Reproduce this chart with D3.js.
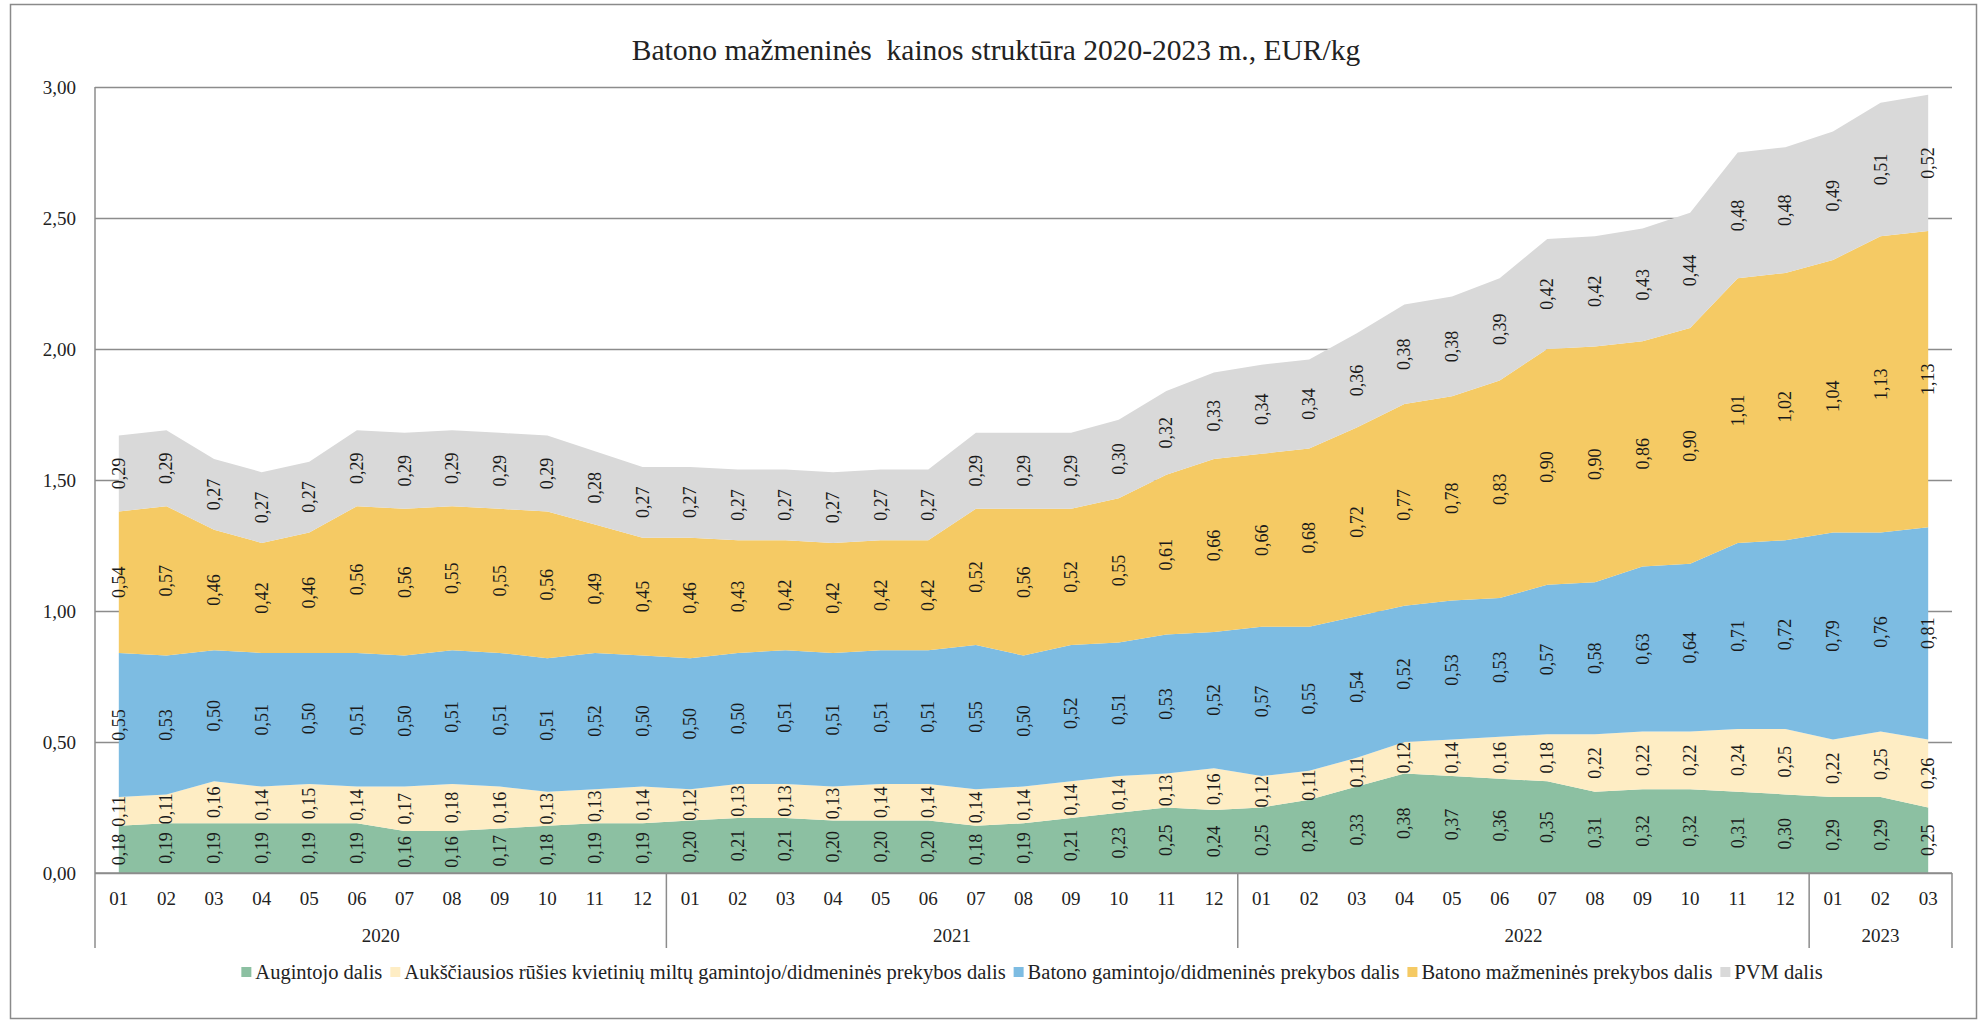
<!DOCTYPE html>
<html>
<head>
<meta charset="utf-8">
<script src="https://cdn.jsdelivr.net/npm/d3@7"></script>
<style>
  body { margin: 0; background: #fff; }
  svg { display: block; font-family: "Liberation Serif", "Times New Roman", serif; }
</style>
</head>
<body>
<div id="vis"></div>
<script>

// periods (year-month)
var periods = ['2020-01','2020-02','2020-03','2020-04','2020-05','2020-06','2020-07','2020-08','2020-09','2020-10','2020-11','2020-12',
	'2021-01','2021-02','2021-03','2021-04','2021-05','2021-06','2021-07','2021-08','2021-09','2021-10','2021-11','2021-12',
	'2022-01','2022-02','2022-03','2022-04','2022-05','2022-06','2022-07','2022-08','2022-09','2022-10','2022-11','2022-12',
	'2023-01','2023-02','2023-03'];
var years = ['2020', '2021', '2022', '2023'];

var augintojo = [0.18,0.19,0.19,0.19,0.19,0.19,0.16,0.16,0.17,0.18,0.19,0.19,
	0.20,0.21,0.21,0.20,0.20,0.20,0.18,0.19,0.21,0.23,0.25,0.24,
	0.25,0.28,0.33,0.38,0.37,0.36,0.35,0.31,0.32,0.32,0.31,0.30,
	0.29,0.29,0.25];
var miltu = [0.11,0.11,0.16,0.14,0.15,0.14,0.17,0.18,0.16,0.13,0.13,0.14,
	0.12,0.13,0.13,0.13,0.14,0.14,0.14,0.14,0.14,0.14,0.13,0.16,
	0.12,0.11,0.11,0.12,0.14,0.16,0.18,0.22,0.22,0.22,0.24,0.25,
	0.22,0.25,0.26];
var gamintojo = [0.55,0.53,0.50,0.51,0.50,0.51,0.50,0.51,0.51,0.51,0.52,0.50,
	0.50,0.50,0.51,0.51,0.51,0.51,0.55,0.50,0.52,0.51,0.53,0.52,
	0.57,0.55,0.54,0.52,0.53,0.53,0.57,0.58,0.63,0.64,0.71,0.72,
	0.79,0.76,0.81];
var mazmenine = [0.54,0.57,0.46,0.42,0.46,0.56,0.56,0.55,0.55,0.56,0.49,0.45,
	0.46,0.43,0.42,0.42,0.42,0.42,0.52,0.56,0.52,0.55,0.61,0.66,
	0.66,0.68,0.72,0.77,0.78,0.83,0.90,0.90,0.86,0.90,1.01,1.02,
	1.04,1.13,1.13];
var pvm = [0.29,0.29,0.27,0.27,0.27,0.29,0.29,0.29,0.29,0.29,0.28,0.27,
	0.27,0.27,0.27,0.27,0.27,0.27,0.29,0.29,0.29,0.30,0.32,0.33,
	0.34,0.34,0.36,0.38,0.38,0.39,0.42,0.42,0.43,0.44,0.48,0.48,
	0.49,0.51,0.52];

var seriesKeys = ['augintojo', 'miltu', 'gamintojo', 'mazmenine', 'pvm'];
var seriesNames = ['Augintojo dalis',
	'Aukščiausios rūšies kvietinių miltų gamintojo/didmeninės prekybos dalis',
	'Batono gamintojo/didmeninės prekybos dalis',
	'Batono mažmeninės prekybos dalis',
	'PVM dalis'];
var yTicks = [0, 0.5, 1, 1.5, 2, 2.5, 3];

var title = 'Batono mažmeninės  kainos struktūra 2020-2023 m., EUR/kg';

var colors = ['#8cc0a2', '#feedc4', '#7dbce2', '#f5ca64', '#d9d9d9'];

var W = 1981, H = 1024;
var plotLeft = 95, plotRight = 1952, plotTop = 87, plotBottom = 873;

var locale = d3.formatLocale({decimal: ',', thousands: '\u00a0', grouping: [3], currency: ['', ' €']});
var fmt = locale.format('.2f');

var rows = periods.map(function (p, i) {
	return {period: p, augintojo: augintojo[i], miltu: miltu[i], gamintojo: gamintojo[i], mazmenine: mazmenine[i], pvm: pvm[i]};
});

var svg = d3.select('#vis').append('svg')
	.attr('width', W)
	.attr('height', H);

svg.append('rect')
	.attr('x', 10.5).attr('y', 4.5)
	.attr('width', 1966).attr('height', 1014)
	.attr('fill', '#fff')
	.attr('stroke', '#8a8a8a')
	.attr('stroke-width', 1.5);

var x = d3.scaleBand().domain(periods).range([plotLeft, plotRight]).padding(0);
var cx = function (p) { return x(p) + x.bandwidth() / 2; };
var y = d3.scaleLinear().domain([0, 3]).range([plotBottom, plotTop]);

// gridlines
svg.append('g')
	.attr('class', 'grid')
	.attr('transform', 'translate(' + plotLeft + ',0)')
	.call(d3.axisLeft(y).tickValues(yTicks).tickSize(-(plotRight - plotLeft)).tickFormat(''))
	.call(function (g) { g.select('.domain').remove(); })
	.selectAll('line')
	.attr('stroke', '#8c8c8c')
	.attr('stroke-width', 1.5);

var stack = d3.stack().keys(seriesKeys);
var layers = stack(rows);

var area = d3.area()
	.x(function (d) { return cx(d.data.period); })
	.y0(function (d) { return y(d[0]); })
	.y1(function (d) { return y(d[1]); });

svg.append('g').selectAll('path')
	.data(layers)
	.enter().append('path')
	.attr('d', area)
	.attr('fill', function (d, i) { return colors[i]; });

// y axis labels
svg.append('g')
	.attr('transform', 'translate(' + plotLeft + ',0)')
	.call(d3.axisLeft(y).tickValues(yTicks).tickSize(0).tickPadding(19).tickFormat(fmt))
	.call(function (g) { g.select('.domain').remove(); })
	.selectAll('text')
	.attr('font-family', '"Liberation Serif", serif')
	.attr('font-size', 19)
	.attr('fill', '#222');

// axis lines
svg.append('line')
	.attr('x1', plotLeft).attr('x2', plotLeft)
	.attr('y1', plotTop).attr('y2', 948)
	.attr('stroke', '#8c8c8c').attr('stroke-width', 1.5);
svg.append('line')
	.attr('x1', plotLeft).attr('x2', plotRight)
	.attr('y1', plotBottom).attr('y2', plotBottom)
	.attr('stroke', '#8c8c8c').attr('stroke-width', 1.5);

// month labels
svg.append('g').selectAll('text')
	.data(periods)
	.enter().append('text')
	.attr('x', cx)
	.attr('y', 898)
	.attr('text-anchor', 'middle')
	.attr('dominant-baseline', 'central')
	.attr('font-size', 19)
	.attr('fill', '#222')
	.text(function (p) { return p.split('-')[1]; });

// year labels and separators
years.forEach(function (yr) {
	var ps = periods.filter(function (p) { return p.indexOf(yr) === 0; });
	var x0 = x(ps[0]), x1 = x(ps[ps.length - 1]) + x.bandwidth();
	svg.append('text')
		.attr('x', (x0 + x1) / 2)
		.attr('y', 935)
		.attr('text-anchor', 'middle')
		.attr('dominant-baseline', 'central')
		.attr('font-size', 19)
		.attr('fill', '#222')
		.text(yr);
	svg.append('line')
		.attr('x1', x1).attr('x2', x1)
		.attr('y1', plotBottom).attr('y2', 948)
		.attr('stroke', '#8c8c8c').attr('stroke-width', 1.5);
});

// data labels
layers.forEach(function (layer) {
	svg.append('g').selectAll('text')
		.data(layer)
		.enter().append('text')
		.attr('transform', function (d) {
			return 'translate(' + cx(d.data.period) + ',' + y((d[0] + d[1]) / 2) + ') rotate(-90)';
		})
		.attr('text-anchor', 'middle')
		.attr('dominant-baseline', 'central')
		.attr('font-size', 18)
		.attr('fill', '#1a1a1a')
		.text(function (d) { return fmt(d[1] - d[0]); });
});

// title
svg.append('text')
	.attr('x', 996)
	.attr('y', 50)
	.attr('text-anchor', 'middle')
	.attr('dominant-baseline', 'central')
	.attr('font-size', 29.5)
	.attr('fill', '#222')
	.style('white-space', 'pre')
	.text(title);

// legend
var legend = svg.append('g');
var lx = 0;
seriesNames.forEach(function (name, i) {
	var item = legend.append('g').attr('transform', 'translate(' + lx + ',0)');
	item.append('rect')
		.attr('x', 0).attr('y', -5)
		.attr('width', 10).attr('height', 10)
		.attr('fill', colors[i]);
	var t = item.append('text')
		.attr('x', 14)
		.attr('y', 0)
		.attr('dominant-baseline', 'central')
		.attr('font-size', 20.5)
		.attr('fill', '#222')
		.text(name);
	lx += 14 + t.node().getComputedTextLength() + 8;
});
legend.attr('transform', 'translate(' + (1036 - lx / 2) + ',972)');

</script>
</body>
</html>
